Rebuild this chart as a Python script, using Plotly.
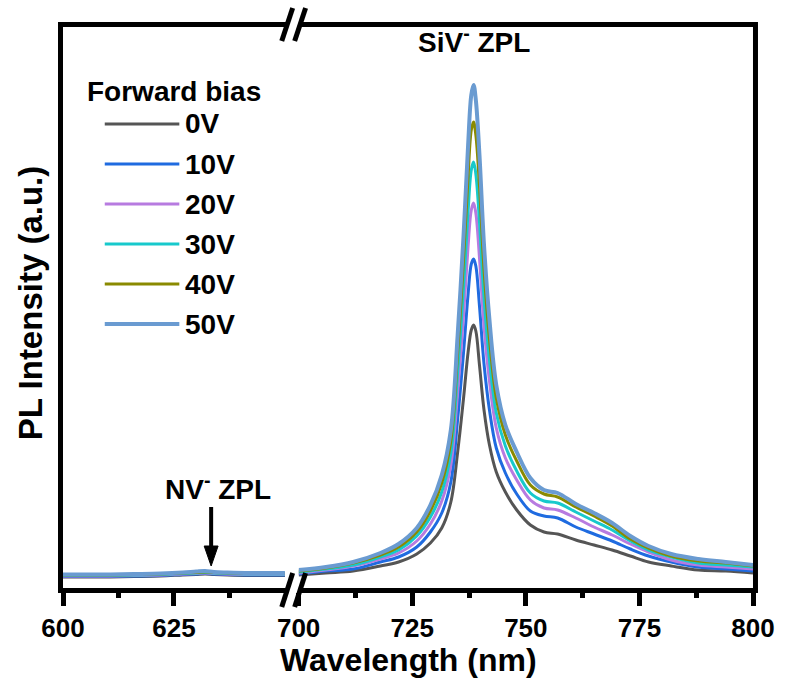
import plotly.graph_objects as go

# ---------------- data ----------------
series_names = ["0V", "10V", "20V", "30V", "40V", "50V"]
series_colors = ["#555555", "#1F6BE0", "#B77BE0", "#17C9CC", "#8A8A00", "#6A9BD1"]
series_widths = [3, 3, 3, 3, 3, 4]

left_wl = [600, 608, 616, 622, 627, 630, 632, 634, 637, 642, 650]
left_0V = [13, 13, 13.5, 14, 15, 15.5, 16, 15.5, 15, 14.5, 14.5]
left_10V = [13.5, 13.5, 14, 14.5, 15.5, 16, 16.5, 16, 15.5, 15, 15]
left_20V = [14, 14, 14.5, 15, 16, 16.5, 17, 16.5, 16, 15.5, 15.5]
left_30V = [14.5, 14.5, 15, 15.5, 16.5, 17, 17.5, 17, 16.5, 16, 16]
left_40V = [15, 15, 15.5, 16, 17, 17.5, 18, 17.5, 17, 16.5, 16.5]
left_50V = [15.5, 15.5, 16, 16.5, 17.5, 18.5, 19, 18, 17.5, 17, 17]

right_wl = [700, 706, 712, 718, 722, 726, 729, 731.5, 733.5, 735, 736.3, 737.3, 738.0, 738.5,
            739.0, 739.8, 740.8, 742, 743.5, 745.5, 748, 751, 754, 757, 761, 765, 769, 773,
            777, 782, 788, 794, 800]
right_0V = [15, 17, 19, 24, 28, 36, 47, 62, 88, 138, 192, 238, 260, 265, 259, 225, 180, 145,
            118, 98, 80, 65, 58, 56, 50, 45, 40, 34, 28, 24, 20, 19, 17]
right_10V = [16, 19, 21, 28, 33, 43, 58, 77, 108, 171, 238, 296, 326, 331, 324, 284, 226, 180,
             142, 117, 96, 79, 74, 72, 63, 56, 49, 41, 34, 28, 23, 21, 19]
right_20V = [17, 20, 24, 31, 37, 49, 66, 89, 125, 198, 275, 344, 380, 387, 377, 332, 264, 209,
             162, 132, 110, 90, 82, 80, 72, 63, 55, 46, 38, 30, 25, 23, 21]
right_30V = [18, 21, 25, 33, 40, 54, 73, 98, 137, 218, 303, 379, 420, 428, 416, 368, 292, 230,
             177, 144, 119, 97, 89, 87, 78, 69, 60, 49, 40, 33, 27, 25, 23]
right_40V = [19, 22, 27, 35, 43, 58, 79, 107, 149, 237, 331, 414, 460, 468, 455, 404, 320, 251,
             192, 155, 129, 105, 96, 93, 83, 74, 64, 51, 42, 34, 29, 27, 24]
right_50V = [20, 23, 28, 37, 46, 62, 85, 115, 160, 255, 355, 445, 495, 505, 490, 435, 345, 270,
             205, 165, 138, 112, 100, 97, 86, 77, 67, 54, 44, 36, 31, 28, 25]

left_series = [left_0V, left_10V, left_20V, left_30V, left_40V, left_50V]
right_series = [right_0V, right_10V, right_20V, right_30V, right_40V, right_50V]

left_ticks = [600, 625]
left_minor = [612.5, 637.5]
right_ticks = [700, 725, 750, 775, 800]
right_minor = [712.5, 737.5, 762.5, 787.5]

# ---------------- figure ----------------
FONT = "Liberation Sans, Arial, sans-serif"
W, H = 787, 685
ML, MR, MT, MB = 63, 30, 27, 97
PW, PH = W - ML - MR, H - MT - MB
BASE = 590  # pixel row of intensity zero


def px(x):
    return (x - ML) / PW


def py(y):
    return (H - MB - y) / PH


fig = go.Figure()
for name, col, lw, ly, ry in zip(series_names, series_colors, series_widths, left_series, right_series):
    fig.add_trace(go.Scatter(x=left_wl, y=ly, mode="lines", name=name, xaxis="x", yaxis="y",
                             line=dict(color=col, width=lw, shape="spline", smoothing=1.0),
                             showlegend=False))
    fig.add_trace(go.Scatter(x=right_wl, y=ry, mode="lines", name=name, xaxis="x2", yaxis="y",
                             line=dict(color=col, width=lw, shape="spline", smoothing=1.0),
                             showlegend=False))

axis_common = dict(showline=True, linecolor="black", linewidth=5, mirror=True,
                   ticks="outside", ticklen=13, tickwidth=5, tickcolor="black",
                   showgrid=False, zeroline=False,
                   tickfont=dict(family=FONT, size=26, color="black", weight="bold"))

fig.update_layout(
    width=W, height=H,
    margin=dict(l=ML, r=MR, t=MT, b=MB),
    paper_bgcolor="white", plot_bgcolor="white",
    xaxis=dict(domain=[0, px(288)], range=[600, 650.4], anchor="y",
               tickmode="array", tickvals=left_ticks,
               minor=dict(tickvals=left_minor, ticks="outside", ticklen=5, tickwidth=5, tickcolor="black"),
               **axis_common),
    xaxis2=dict(domain=[px(300), 1], range=[700, 800], anchor="y",
                tickmode="array", tickvals=right_ticks,
                minor=dict(tickvals=right_minor, ticks="outside", ticklen=5, tickwidth=5, tickcolor="black"),
                **axis_common),
    yaxis=dict(range=[BASE - (H - MB), BASE - MT], showline=True, linecolor="black", linewidth=5,
               showticklabels=False, ticks="", showgrid=False, zeroline=False, anchor="x"),
    font=dict(family=FONT, color="black"),
)

shapes = []
# right frame line
shapes.append(dict(type="line", xref="paper", yref="paper", x0=1 + 2.5 / PW, x1=1 + 2.5 / PW,
                   y0=py(593), y1=py(22), line=dict(color="black", width=5)))
# axis break marks
for (xa, xb) in [(283, 294), (296, 307)]:
    shapes.append(dict(type="line", xref="paper", yref="paper", x0=px(xa), y0=py(41), x1=px(xb), y1=py(8),
                       line=dict(color="black", width=5)))
    shapes.append(dict(type="line", xref="paper", yref="paper", x0=px(xa), y0=py(607), x1=px(xb), y1=py(573),
                       line=dict(color="black", width=5)))

# NV arrow (shaft + head)
shapes.append(dict(type="line", xref="paper", yref="paper", x0=px(212), x1=px(212), y0=py(507), y1=py(550),
                   line=dict(color="black", width=4)))
shapes.append(dict(type="path", xref="paper", yref="paper",
                   path=f"M {px(205)},{py(546)} L {px(219)},{py(546)} L {px(212)},{py(566)} Z",
                   fillcolor="black", line=dict(color="black", width=1)))

annotations = []
# manual legend
annotations.append(dict(text="Forward bias", xref="paper", yref="paper", x=px(86), y=py(91),
                        xanchor="left", yanchor="middle", showarrow=False, borderpad=0,
                        font=dict(family=FONT, size=28, color="black", weight="bold")))
row0, rowstep = 124, 40
for i, (name, col, lw) in enumerate(zip(series_names, series_colors, series_widths)):
    yy = row0 + i * rowstep
    shapes.append(dict(type="line", xref="paper", yref="paper", x0=px(105), x1=px(180),
                       y0=py(yy), y1=py(yy), line=dict(color=col, width=lw)))
    annotations.append(dict(text=name, xref="paper", yref="paper", x=px(185), y=py(yy),
                            xanchor="left", yanchor="middle", showarrow=False, borderpad=0,
                            font=dict(family=FONT, size=28, color="black", weight="bold")))

# peak labels
annotations.append(dict(text="SiV<sup>-</sup> ZPL", xref="paper", yref="paper", x=px(476), y=py(40),
                        xanchor="center", yanchor="middle", showarrow=False,
                        font=dict(family=FONT, size=28, color="black", weight="bold")))
annotations.append(dict(text="NV<sup>-</sup> ZPL", xref="paper", yref="paper", x=px(219), y=py(487),
                        xanchor="center", yanchor="middle", showarrow=False,
                        font=dict(family=FONT, size=28, color="black", weight="bold")))
# axis titles
annotations.append(dict(text="Wavelength (nm)", xref="paper", yref="paper", x=px(410), y=py(660),
                        xanchor="center", yanchor="middle", showarrow=False,
                        font=dict(family=FONT, size=32, color="black", weight="bold")))
annotations.append(dict(text="PL Intensity (a.u.)", xref="paper", yref="paper", x=px(30), y=py(303),
                        xanchor="center", yanchor="middle", showarrow=False, textangle=-90,
                        font=dict(family=FONT, size=33, color="black", weight="bold")))

fig.update_layout(shapes=shapes, annotations=annotations)
fig.write_html("out.html")
